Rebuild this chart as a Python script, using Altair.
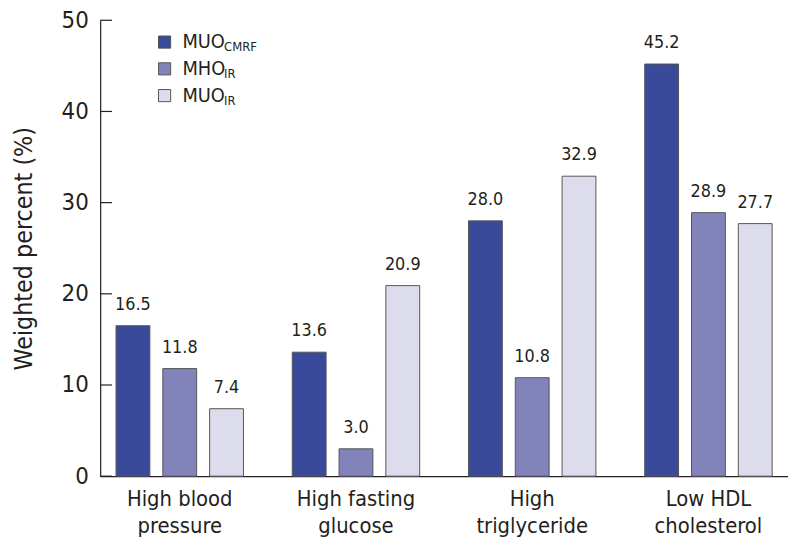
import altair as alt
import pandas as pd

categories = ["High blood pressure", "High fasting glucose", "High triglyceride", "Low HDL cholesterol"]
cat_line1 = ["High blood", "High fasting", "High", "Low HDL"]
cat_line2 = ["pressure", "glucose", "triglyceride", "cholesterol"]
groups = ["MUO_CMRF", "MHO_IR", "MUO_IR"]
group_main = ["MUO", "MHO", "MUO"]
group_sub = ["CMRF", "IR", "IR"]
colors = ["#3a4a9a", "#8383bc", "#dcdcec"]

muo_cmrf = [16.5, 13.6, 28.0, 45.2]
mho_ir = [11.8, 3.0, 10.8, 28.9]
muo_ir = [7.4, 20.9, 32.9, 27.7]

y_ticks = [0, 10, 20, 30, 40, 50]

FONT = "'Liberation Sans Narrow', 'DejaVu Sans Condensed', 'Roboto Condensed', 'Arial Narrow', Roboto, sans-serif"

rows = []
for i, c in enumerate(categories):
    for g, vals in zip(groups, [muo_cmrf, mho_ir, muo_ir]):
        rows.append({"cat": c, "grp": g, "val": vals[i], "lbl": f"{vals[i]:.1f}"})
df = pd.DataFrame(rows)

label_map = "{" + ",".join(f"'{c}': ['{a}', '{b}']" for c, a, b in zip(categories, cat_line1, cat_line2)) + "}"
legend_map = "{" + ",".join(f"'{g}': '{m}'" for g, m in zip(groups, group_main)) + "}"

x_enc = alt.X("cat:N", sort=categories,
              scale=alt.Scale(paddingInner=0.277, paddingOuter=0.09),
              axis=alt.Axis(title=None, labelExpr=f"{label_map}[datum.value]", labelAngle=0,
                            labelFontSize=22, labelFont=FONT, labelColor="#231f20",
                            labelPadding=13, labelLineHeight=27, ticks=False,
                            domainColor="#231f20", domainWidth=1.2))
xo_enc = alt.XOffset("grp:N", sort=groups, scale=alt.Scale(paddingInner=0.277, paddingOuter=0))
y_enc = alt.Y("val:Q", scale=alt.Scale(domain=[0, 50], nice=False),
              axis=alt.Axis(title="Weighted percent (%)", values=y_ticks, ticks=False, grid=False,
                            labelFontSize=24, labelFont=FONT, labelColor="#231f20", labelPadding=12,
                            titleFontSize=25, titleFont=FONT, titleFontWeight="normal",
                            titleColor="#231f20", titlePadding=25,
                            domainColor="#231f20", domainWidth=1.2))

base = alt.Chart(df)

bars = base.mark_bar(stroke="#555555", strokeWidth=1).encode(
    x=x_enc, xOffset=xo_enc, y=y_enc,
    color=alt.Color("grp:N", sort=groups,
                    scale=alt.Scale(domain=groups, range=colors),
                    legend=alt.Legend(title=None, orient="none", legendX=55, legendY=12,
                                      symbolType="square", symbolSize=150, symbolStrokeColor="#555555",
                                      symbolStrokeWidth=1, symbolOpacity=1,
                                      labelFont=FONT, labelFontSize=20, labelColor="#231f20",
                                      labelOffset=8, rowPadding=7,
                                      labelExpr=f"{legend_map}[datum.value]")),
)

texts = base.mark_text(baseline="bottom", dy=-12, fontSize=18, font=FONT, color="#231f20").encode(
    x=alt.X("cat:N", sort=categories), xOffset=alt.XOffset("grp:N", sort=groups),
    y=alt.Y("val:Q"), text="lbl:N",
)

tick_df = pd.DataFrame({"t": y_ticks})
ticks = alt.Chart(tick_df).mark_rule(color="#231f20", strokeWidth=1.2).encode(
    x=alt.value(0), x2=alt.value(12), y=alt.Y("t:Q"),
)

sub_df = pd.DataFrame({"sub": group_sub, "ypos": [31, 58, 85], "xpos": [125, 125, 125]})
subs = alt.Chart(sub_df).mark_text(align="left", baseline="alphabetic", fontSize=13, font=FONT,
                                    color="#231f20").encode(
    x=alt.X("xpos:Q", scale=None), y=alt.Y("ypos:Q", scale=None), text="sub:N",
)

chart = alt.layer(bars, texts, ticks, subs).resolve_scale(y="shared").properties(
    width=694, height=460,
    autosize=alt.AutoSizeParams(type="none"),
    padding={"left": 93, "top": 10, "right": 0, "bottom": 61},
).configure_view(stroke=None)

chart.save("out.html", embed_options={"renderer": "svg", "actions": False})
